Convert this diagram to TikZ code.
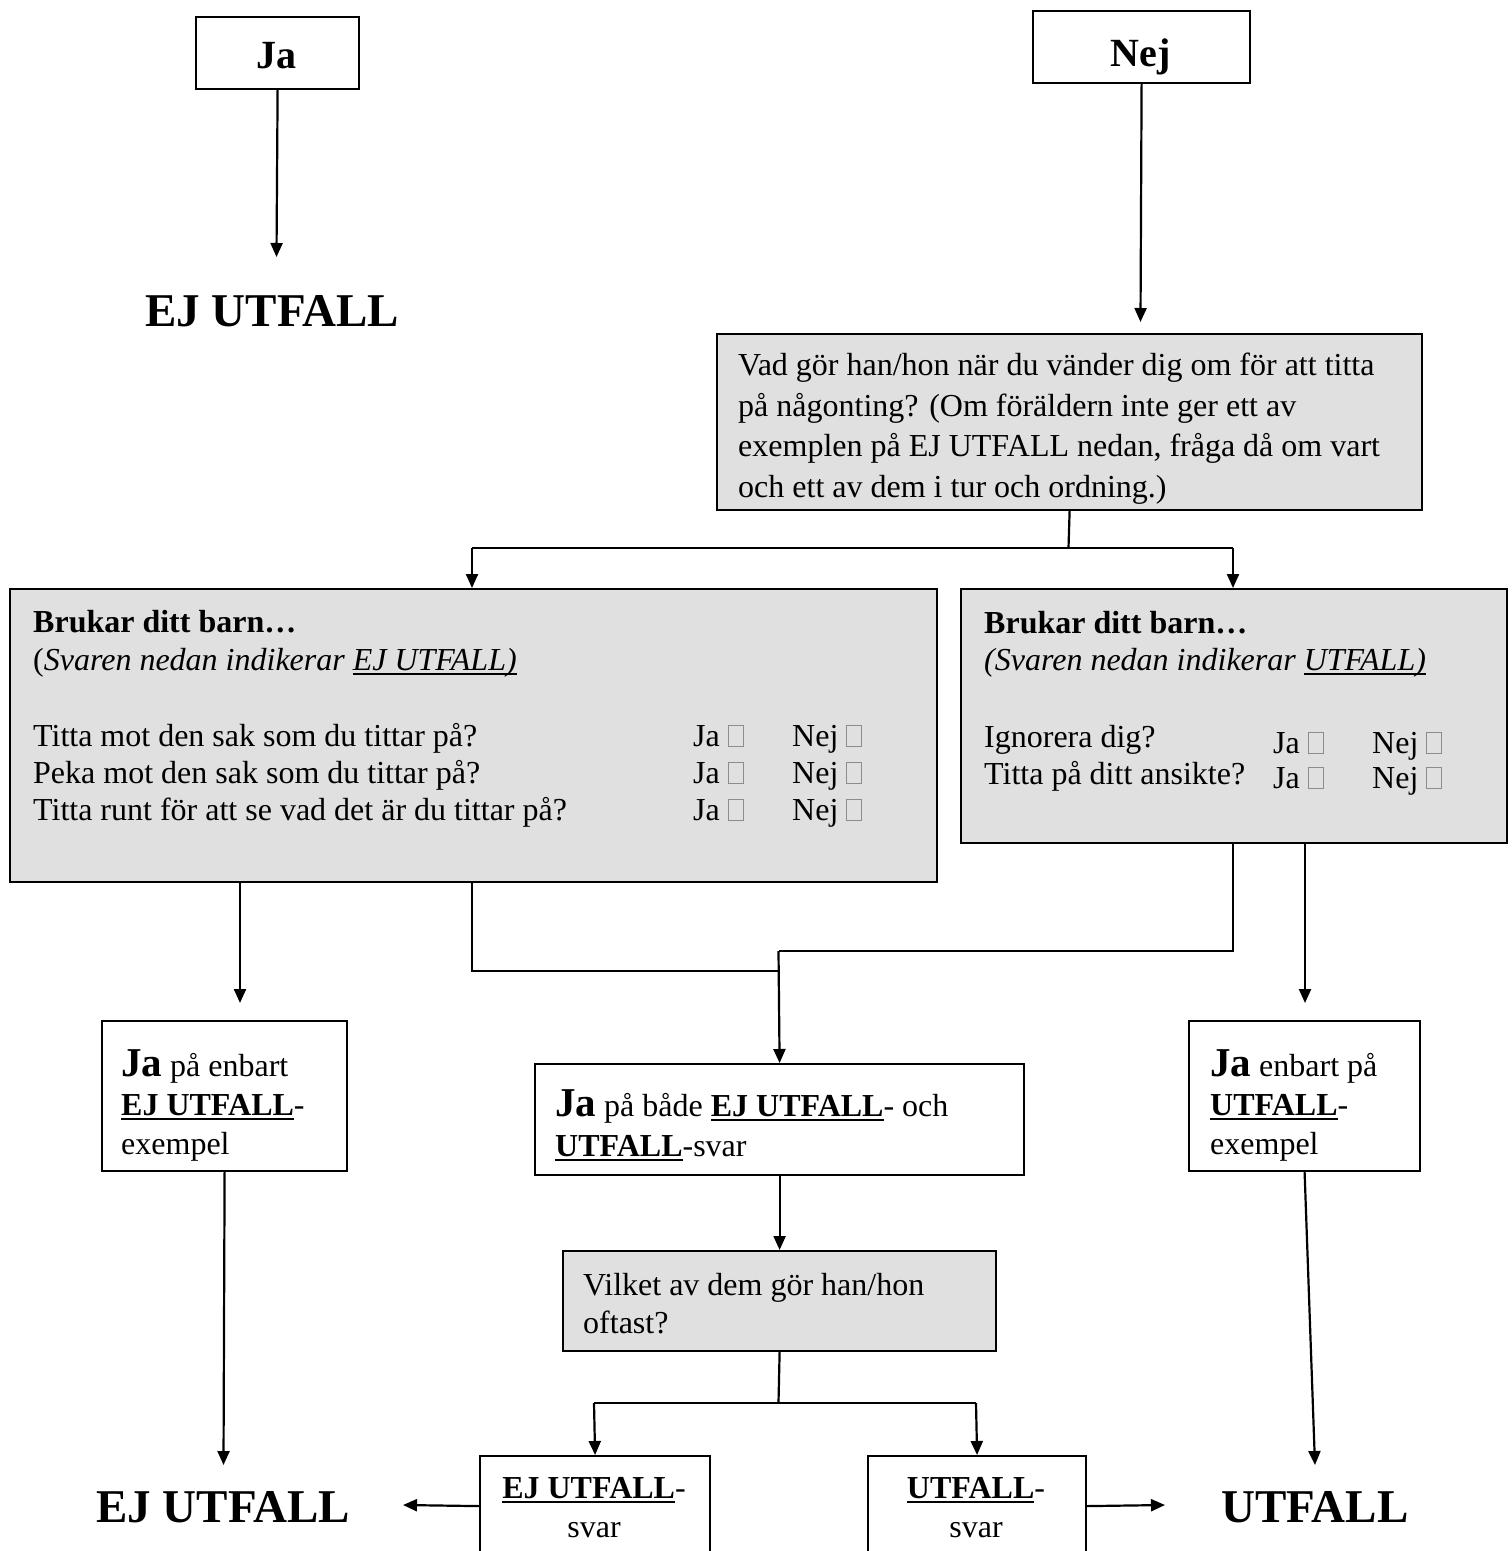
\documentclass[tikz,border=0pt]{standalone}
\usepackage{fontspec}
\setmainfont{Liberation Serif}
\usetikzlibrary{arrows.meta}
\newcommand\myul[1]{\leavevmode\setbox0\hbox{#1}\rlap{\rule[-5pt]{\wd0}{2pt}}\box0}
\newcommand\cbx{\textcolor{black!45}{\setlength{\fboxsep}{0pt}\setlength{\fboxrule}{1pt}\fbox{\rule{0pt}{20pt}\rule{14pt}{0pt}}}}
\newcommand\bigja{{\fontsize{41}{39}\selectfont\bfseries Ja}}
\tikzset{
  box/.style={draw, line width=2.2pt, anchor=north west, inner sep=0pt},
  gbox/.style={box, fill=black!12},
  arr/.style={line width=2.2pt, -{Triangle[length=14pt,width=12pt]}},
  ln/.style={line width=2.2pt},
  txt/.style={anchor=base west, align=left, inner sep=0pt, font=\fontsize{32}{40}\selectfont},
  big/.style={anchor=base, inner sep=0pt, font=\fontsize{47}{50}\selectfont\bfseries},
}
\begin{document}
\begin{tikzpicture}[x=1pt,y=-1pt]
\useasboundingbox (0,0) rectangle (1512,1551);
\clip (0,0) rectangle (1512,1551);
\fill[white] (0,0) rectangle (1512,1551);
% boxes
\node[box, minimum width=163pt, minimum height=72pt] (ja) at (195,16) {};
\node[box, minimum width=217pt, minimum height=72pt] (nej) at (1032,10) {};
\node[gbox, minimum width=705pt, minimum height=176pt] (q1) at (716,333) {};
\node[gbox, minimum width=927pt, minimum height=293pt] (l) at (9,588) {};
\node[gbox, minimum width=546pt, minimum height=254pt] (r) at (960,588) {};
\node[box, minimum width=245pt, minimum height=150pt] (a) at (101,1020) {};
\node[box, minimum width=489pt, minimum height=111pt] (b) at (534,1063) {};
\node[box, minimum width=231pt, minimum height=150pt] (c) at (1188,1020) {};
\node[gbox, minimum width=433pt, minimum height=100pt] (d) at (562,1250) {};
\node[box, minimum width=230pt, minimum height=100pt] (e) at (479,1455) {};
\node[box, minimum width=218pt, minimum height=100pt] (f) at (867,1455) {};
% texts (anchor base = baseline of the last line)
\node[anchor=base, inner sep=0pt, font=\fontsize{40}{40}\selectfont\bfseries] (jat) at (276.5,68) {Ja};
\node[anchor=base, inner sep=0pt, font=\fontsize{40}{40}\selectfont\bfseries] (nejt) at (1140.5,66) {Nej};
\node[big] (ej1) at (272,326) {EJ UTFALL};
\node[big] (ej2) at (223,1522) {EJ UTFALL};
\node[big] (utf) at (1315,1522) {UTFALL};
\node[txt, font=\fontsize{32}{40.5}\selectfont] (q1t) at (738,497) {Vad gör han/hon när du vänder dig om för att titta\\på någonting? (Om föräldern inte ger ett av\\exemplen på EJ UTFALL nedan, fråga då om vart\\och ett av dem i tur och ordning.)};
\node[txt, font=\fontsize{32}{38}\selectfont] (lh) at (33,670) {\textbf{Brukar ditt barn…}\\(\textit{Svaren nedan indikerar \myul{EJ UTFALL)}}};
\node[txt, font=\fontsize{32}{37}\selectfont] (lq) at (33,820) {Titta mot den sak som du tittar på?\\Peka mot den sak som du tittar på?\\Titta runt för att se vad det är du tittar på?};
\node[txt, font=\fontsize{32}{37}\selectfont] (lja) at (693,820) {Ja \cbx\\Ja \cbx\\Ja \cbx};
\node[txt, font=\fontsize{32}{37}\selectfont] (lnej) at (792,820) {Nej \cbx\\Nej \cbx\\Nej \cbx};
\node[txt, font=\fontsize{32}{37}\selectfont] (rh) at (984,670) {\textbf{Brukar ditt barn…}\\\textit{(Svaren nedan indikerar \myul{UTFALL)}}};
\node[txt, font=\fontsize{32}{37}\selectfont] (rq) at (984,784) {Ignorera dig?\\Titta på ditt ansikte?};
\node[txt, font=\fontsize{32}{35}\selectfont] (rja) at (1273,788) {Ja \cbx\\Ja \cbx};
\node[txt, font=\fontsize{32}{35}\selectfont] (rnej) at (1372,788) {Nej \cbx\\Nej \cbx};
\node[txt, font=\fontsize{32}{39}\selectfont] (at) at (121,1154) {\bigja{} på enbart\\\myul{\textbf{EJ UTFALL}}-\\exempel};
\node[txt, font=\fontsize{32}{40}\selectfont] (bt) at (555,1156) {\bigja{} på både \myul{\textbf{EJ UTFALL}}- och\\\myul{\textbf{UTFALL}}-svar};
\node[txt, font=\fontsize{32}{39}\selectfont] (ct) at (1210,1154) {\bigja{} enbart på\\\myul{\textbf{UTFALL}}-\\exempel};
\node[txt, font=\fontsize{32}{38}\selectfont] (dt) at (583,1333) {Vilket av dem gör han/hon\\oftast?};
\node[anchor=base, align=center, inner sep=0pt, font=\fontsize{32}{39}\selectfont] (et) at (594,1537) {\myul{\textbf{EJ UTFALL}}-\\svar};
\node[anchor=base, align=center, inner sep=0pt, font=\fontsize{32}{39}\selectfont] (ft) at (976,1537) {\myul{\textbf{UTFALL}}-\\svar};
% coordinates
\coordinate (jaE) at (276.5,257);
\coordinate (nejE) at (1140.5,322);
\coordinate (q1j) at (1068.5,548);
\coordinate (sL) at (472,548);
\coordinate (sR) at (1233,548);
\coordinate (xA) at (240,881);
\coordinate (aT) at (240,1003);
\coordinate (xC) at (1305,842);
\coordinate (cT) at (1305,1003);
\coordinate (xLB) at (472,881);
\coordinate (jL) at (472,971);
\coordinate (jL2) at (778.5,971);
\coordinate (xRB) at (1233,842);
\coordinate (jR) at (1233,951);
\coordinate (jR2) at (778.5,951);
\coordinate (dj) at (778.5,1403);
\coordinate (dL) at (594,1403);
\coordinate (dR) at (976,1403);
\coordinate (eE) at (403,1505);
\coordinate (fE) at (1165,1505);
\coordinate (aE) at (223.5,1465);
\coordinate (cE) at (1315,1465);
% connectors
\draw[arr] (ja.south) -- (jaE);
\draw[arr] (nej.south) -- (nejE);
\draw[ln] (q1.south) -- (q1j);
\draw[ln] (sL) -- (sR);
\draw[arr] (sL) -- (sL |- l.north);
\draw[arr] (sR) -- (sR |- r.north);
\draw[arr] (xA) -- (aT);
\draw[arr] (xC) -- (cT);
\draw[ln] (xLB) -- (jL) -- (jL2);
\draw[ln] (xRB) -- (jR) -- (jR2);
\draw[arr] (jR2) -- (b.north);
\draw[arr] (b.south) -- (d.north);
\draw[ln] (d.south) -- (dj);
\draw[ln] (dL) -- (dR);
\draw[arr] (dL) -- (e.north);
\draw[arr] (dR) -- (f.north);
\draw[arr] (e.west) -- (eE);
\draw[arr] (f.east) -- (fE);
\draw[arr] (a.south) -- (aE);
\draw[arr] (c.south) -- (cE);
\end{tikzpicture}
\end{document}
